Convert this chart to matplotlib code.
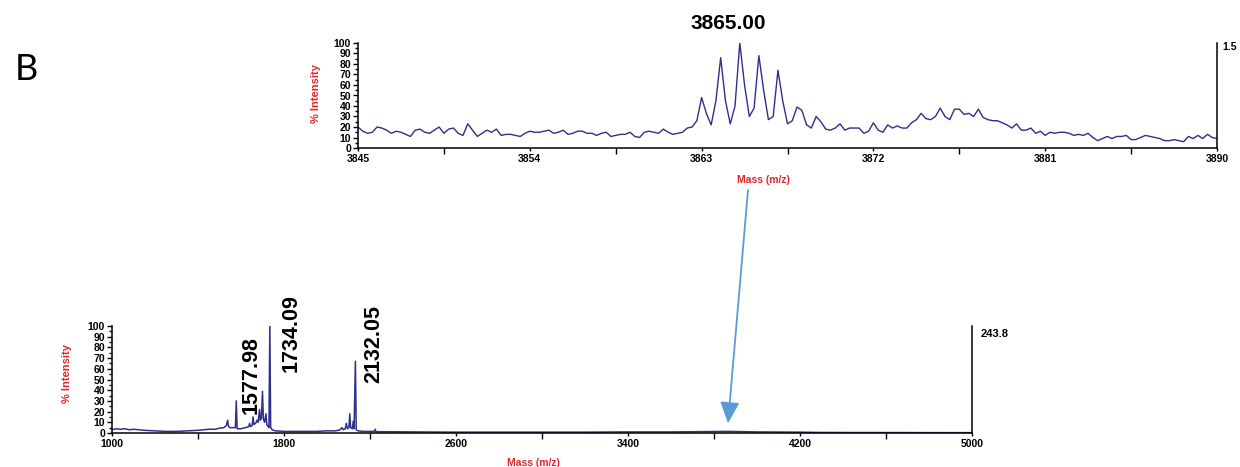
import numpy as np
import matplotlib
matplotlib.use("Agg")
import matplotlib.pyplot as plt
from matplotlib.ticker import MultipleLocator, FixedLocator
from matplotlib.patches import ConnectionPatch

# ---- zoomed region: 3845-3890 m/z, sampled every 0.25 m/z ----
zoom_start, zoom_step = 3845.0, 0.25
zoom_intensity = [
    20, 16, 14, 15, 20, 19, 17, 14, 16, 15, 13, 11, 17, 18, 15, 14, 17, 20, 14, 18,
    19, 14, 12, 23, 17, 11, 14, 17, 15, 18, 12, 13, 13, 12, 11, 14, 16, 15, 15, 16,
    17, 14, 15, 17, 13, 14, 16, 16, 14, 14, 12, 14, 15, 11, 12, 13, 13, 15, 11, 10,
    15, 16, 15, 14, 18, 15, 13, 14, 15, 19, 20, 26, 48, 33, 22, 45, 86, 45, 23, 40,
    100, 60, 30, 38, 88, 55, 27, 30, 74, 45, 23, 26, 39, 36, 22, 19, 30, 25, 18, 17,
    19, 23, 17, 19, 19, 19, 14, 16, 24, 17, 15, 22, 19, 21, 19, 19, 24, 27, 33, 28,
    27, 30, 38, 30, 27, 37, 37, 32, 33, 30, 37, 29, 27, 26, 26, 24, 22, 19, 23, 17,
    17, 19, 14, 16, 12, 15, 14, 15, 15, 14, 12, 13, 12, 14, 10, 7, 9, 11, 9, 11,
    11, 12, 8, 8, 10, 12, 11, 10, 9, 7, 7, 8, 7, 6, 11, 9, 12, 9, 13, 10, 9,
]
zoom_mass = zoom_start + zoom_step * np.arange(len(zoom_intensity))
zoom_ticks = [3845, 3854, 3863, 3872, 3881, 3890]
zoom_peak = 3865.00
zoom_scale_label = "1.5"

# ---- full spectrum: 1000-5000 m/z profile ----
full_mass = [
    1000, 1020, 1040, 1060, 1080, 1100, 1150, 1200, 1250, 1300, 1350, 1400, 1450,
    1480, 1500, 1520, 1532, 1538, 1542, 1550, 1560, 1574, 1577.98, 1582, 1600, 1620,
    1636, 1640, 1644, 1652, 1656, 1660, 1668, 1675, 1680, 1686, 1690, 1695, 1700,
    1704, 1710, 1716, 1720, 1726, 1730, 1734.09, 1738, 1745, 1760, 1800, 1850, 1900,
    1950, 2000, 2040, 2060, 2070, 2075, 2085, 2090, 2095, 2102, 2106, 2110, 2118,
    2122, 2126, 2132.05, 2136, 2145, 2170, 2200, 2220, 2224, 2228, 2300, 2400, 2600,
    2800, 3000, 3200, 3400, 3600, 3865, 4000, 4200, 4300, 5000,
]
full_intensity = [
    3, 4, 3.5, 4, 3, 3.5, 2.5, 2, 1.5, 1.5, 2, 2.5, 3.5,
    3.5, 4.5, 5, 7, 12, 6, 5, 5, 5, 30, 4, 4, 5,
    6, 9, 6, 7, 15, 8, 9, 12, 10, 22, 12, 14, 39,
    13, 10, 18, 8, 6, 5, 100, 5, 3, 2, 1.5, 1.5, 1.5,
    1.5, 2, 2, 3, 5, 3, 4, 9, 4, 5, 18, 5, 4,
    11, 4, 67, 3, 2, 1.5, 1.5, 1.5, 3.5, 1.2, 1.2, 1, 0.8,
    0.8, 0.8, 0.8, 1, 1, 1.5, 1, 0.8, 0.5, 0.3,
]
full_ticks = [1000, 1800, 2600, 3400, 4200, 5000]
full_labels = [1577.98, 1734.09, 2132.05]
full_scale_label = "243.8"

TRACE = "#2f2f8c"
RED = "#e3262b"
FONT = "Liberation Sans"
W, H = 1240, 467
fig = plt.figure(figsize=(W / 100, H / 100), dpi=100)


def style_axes(ax, xlo, xhi, ticks):
    ax.set_xlim(xlo, xhi)
    ax.set_ylim(0, 100)
    ax.set_xticks(ticks)
    mids = [(a + b) / 2 for a, b in zip(ticks[:-1], ticks[1:])]
    ax.xaxis.set_minor_locator(FixedLocator(mids))
    ax.yaxis.set_major_locator(MultipleLocator(10))
    ax.yaxis.set_minor_locator(MultipleLocator(5))
    ax.spines["top"].set_visible(False)
    for s in ("left", "bottom", "right"):
        ax.spines[s].set_linewidth(1.1)
        ax.spines[s].set_color("black")
    ax.tick_params(axis="both", which="both", direction="out", width=1.0, pad=1.5)
    ax.tick_params(axis="x", which="major", length=2.5)
    ax.tick_params(axis="x", which="minor", length=4)
    ax.tick_params(axis="y", which="major", length=3.5)
    ax.tick_params(axis="y", which="minor", length=2)
    ax.tick_params(axis="y", which="both", right=False)
    for lab in ax.get_xticklabels() + ax.get_yticklabels():
        lab.set_fontfamily(FONT)
        lab.set_fontweight("bold")
        lab.set_fontsize(7.5)
    ax.set_ylabel("% Intensity", color=RED, fontsize=8, fontweight="bold", family=FONT)
    ax.set_xlabel("Mass (m/z)", color=RED, fontsize=7.5, fontweight="bold", family=FONT)
    ax.patch.set_alpha(0)


# zoomed panel
ax_top = fig.add_axes([358 / W, 1 - 148 / H, (1217 - 358) / W, 105 / H])
ax_top.plot(zoom_mass, zoom_intensity, color=TRACE, lw=1.0)
style_axes(ax_top, 3845, 3890, zoom_ticks)
ax_top.yaxis.set_label_coords(-0.043, 0.52)
ax_top.xaxis.set_label_coords(0.472, -0.26)
ax_top.text(1.006, 0.96, zoom_scale_label, transform=ax_top.transAxes,
            ha="left", va="center", fontsize=7.5, family=FONT, fontweight="bold")
ax_top.annotate(f"{zoom_peak:.2f}", xy=(zoom_peak, 100), xytext=(-8, 7),
                textcoords="offset points", ha="center", va="bottom",
                fontsize=15, fontweight="bold", family=FONT)

# full spectrum panel
ax_bot = fig.add_axes([112 / W, 1 - 433 / H, (972 - 112) / W, 107 / H])
ax_bot.plot(full_mass, full_intensity, color=TRACE, lw=1.1)
style_axes(ax_bot, 1000, 5000, full_ticks)
ax_bot.yaxis.set_label_coords(-0.046, 0.56)
ax_bot.xaxis.set_label_coords(0.49, -0.23)
ax_bot.text(1.01, 0.925, full_scale_label, transform=ax_bot.transAxes,
            ha="left", va="center", fontsize=8, family=FONT, fontweight="bold")
label_offsets = [(11, 14), (15, 44), (13, 36)]
for m, (dx, dy) in zip(full_labels, label_offsets):
    ax_bot.annotate(f"{m:.2f}", xy=(m, 0), xytext=(dx, dy),
                    textcoords="offset points", rotation=90,
                    ha="center", va="bottom", fontsize=15.5, fontweight="bold",
                    family=FONT, annotation_clip=False)

# arrow from the zoomed panel down to the region it magnifies
arrow = ConnectionPatch(xyA=(0.454, -0.40), coordsA=ax_top.transAxes,
                        xyB=(zoom_peak, 9), coordsB=ax_bot.transData,
                        arrowstyle="-|>,head_length=1.0,head_width=0.45",
                        mutation_scale=13, color="#5b9bd5", lw=1.3)
fig.add_artist(arrow)

fig.text(26 / W, 1 - 70 / H, "B", fontsize=26, family="Lato",
         ha="center", va="center")

fig.savefig("out.png", dpi=100)
